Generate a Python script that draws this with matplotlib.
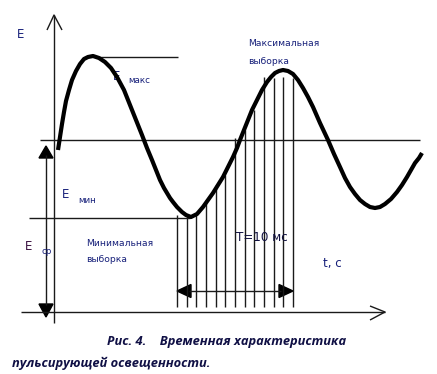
import matplotlib
matplotlib.use("Agg")
import matplotlib.pyplot as plt
from matplotlib.patches import Polygon

# ---- data (diagram units = reference pixels, y downward) ----
curve_x = [58, 60, 62, 64, 66, 69, 72, 76, 80, 84, 88, 93, 99, 105, 111, 117, 124, 130,
           136, 142, 147, 152, 156, 160, 164, 167, 170, 173, 177, 182, 186, 191, 197,
           203, 208, 213, 218, 223, 228, 233, 237, 240, 244, 248, 252, 257, 262, 267,
           271, 275, 279, 283, 288, 293, 298, 303, 308, 313, 320, 328, 334, 340, 345,
           350, 355, 360, 365, 370, 375, 380, 385, 391, 397, 402, 407, 411, 415,
           419, 422]
curve_y = [150, 137, 124, 112, 101, 90, 80, 71, 64, 59, 57, 56, 58, 62, 68, 77, 90, 105,
           120, 135, 148, 160, 170, 180, 188, 193, 198, 202, 207, 212, 215, 217, 214,
           207, 200, 193, 185, 177, 167, 157, 148, 140, 130, 120, 110, 100, 90, 82,
           77, 73, 71, 70, 71, 74, 80, 88, 97, 107, 123, 140, 154, 167, 178,
           187, 194, 200, 204, 207, 208, 207, 204, 199, 192, 185, 177, 170, 163,
           158, 153]

sample_x = [177, 186.7, 196.3, 206, 215.7, 225.3, 235, 244.7, 254.3, 264, 273.7, 283.3, 293]
sample_top = [215, 215, 215, 200, 185, 175, 138, 130, 110, 77, 78, 77, 78]
sample_bottom = 307

e_max, e_min, e_avg = 57, 218, 140
t_axis_y = 312
e_axis_x = 54

caption1 = "Рис. 4.    Временная характеристика"
caption2 = "пульсирующей освещенности."

# ---- figure ----
fig = plt.figure(figsize=(4.37, 3.74), dpi=100)
ax = fig.add_axes([0, 0, 1, 1])
ax.set_xlim(0, 437)
ax.set_ylim(374, 0)
ax.axis("off")

thin = dict(color="#1a1a1a", lw=1.0, solid_capstyle="butt")

# axes
ax.plot([e_axis_x, e_axis_x], [15, 323], **thin)
ax.plot([47, e_axis_x, 62], [30, 15, 30], **thin)
ax.plot([21, 385], [t_axis_y, t_axis_y], **thin)
ax.plot([370, 385, 370], [306, t_axis_y, 320], **thin)

# reference levels
ax.plot([40, 420], [e_avg, e_avg], **thin)
ax.plot([95, 178], [e_max, e_max], **thin)
ax.plot([29, 190], [e_min, e_min], **thin)

# sampling lines
for x, top in zip(sample_x, sample_top):
    ax.plot([x, x], [top, sample_bottom], **thin)

# horizontal double arrow (T = 10 ms)
ay = 291
ax.plot([177 + 12, 293 - 12], [ay, ay], **thin)
ax.add_patch(Polygon([[177, ay], [191, ay - 6.5], [191, ay + 6.5]], closed=True, color="black"))
ax.add_patch(Polygon([[293, ay], [279, ay - 6.5], [279, ay + 6.5]], closed=True, color="black"))

# left vertical double arrow (E avg)
lx = 46
ax.plot([lx, lx], [155, 305], **thin)
ax.add_patch(Polygon([[lx, 146], [lx - 7, 158], [lx + 7, 158]], closed=True, color="black"))
ax.add_patch(Polygon([[lx, 317], [lx - 7, 304], [lx + 7, 304]], closed=True, color="black"))

# wave
ax.plot(curve_x, curve_y, color="black", lw=3.0, solid_joinstyle="round",
        solid_capstyle="butt", zorder=5)

# texts
tc = "#17207a"
fam = ["DejaVu Sans"]
ax.text(113, 76, "E", color=tc, fontsize=8.5, va="center", ha="left", family=fam)
ax.text(17, 34, "E", color=tc, fontsize=8.5, va="center", ha="left", family=fam)
ax.text(128, 80, "макс", color=tc, fontsize=6.3, va="center", ha="left", family=fam)
ax.text(62, 194, "E", color=tc, fontsize=8.5, va="center", ha="left", family=fam)
ax.text(78, 200, "мин", color=tc, fontsize=6.3, va="center", ha="left", family=fam)
ax.text(25, 246, "E", color="#3a1040", fontsize=8.5, va="center", ha="left", family=fam)
ax.text(42, 252, "ср", color=tc, fontsize=6.3, va="center", ha="left", family=fam)
ax.text(86, 243, "Минимальная", color=tc, fontsize=6.6, va="center", ha="left", family=fam)
ax.text(86, 260, "выборка", color=tc, fontsize=6.6, va="center", ha="left", family=fam)
ax.text(248, 43, "Максимальная", color=tc, fontsize=6.6, va="center", ha="left", family=fam)
ax.text(248, 61, "выборка", color=tc, fontsize=6.6, va="center", ha="left", family=fam)
ax.text(236, 237, "T=10 мс", color="#101040", fontsize=8.6, va="center", ha="left", family=fam)
ax.text(323, 263, "t, с", color=tc, fontsize=8.6, va="center", ha="left", family=fam)

cap = dict(color="#101045", fontsize=9.3, va="center", ha="left",
           family=["Open Sans", "DejaVu Sans"], fontweight="bold", fontstyle="italic")
ax.text(107, 342, caption1, **cap)
ax.text(12, 363, caption2, **cap)

fig.savefig("out.png", dpi=100)
